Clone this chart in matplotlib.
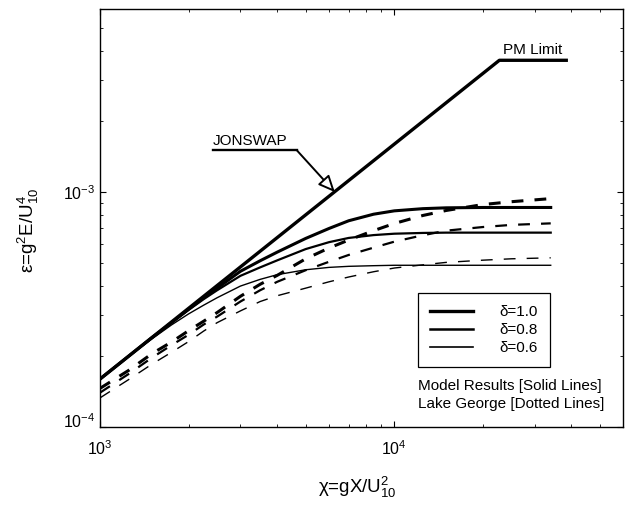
import matplotlib
matplotlib.use("Agg")
import matplotlib.pyplot as plt
from matplotlib.lines import Line2D
from matplotlib.transforms import ScaledTranslation

# ------------------------
# DATA
# ------------------------

chi = [1000, 1250, 1500, 1750, 2000, 2250, 2500, 3000, 3500, 4000,
       5000, 6000, 7000, 8500, 10000, 12500, 15000, 20000, 25000, 34000]

# model results (solid), units of 1e-4
model_10 = [1.60, 2.00, 2.40, 2.78, 3.17, 3.55, 3.90, 4.60, 5.10, 5.55,
            6.35, 7.00, 7.55, 8.05, 8.32, 8.50, 8.57, 8.60, 8.60, 8.60]
model_08 = [1.60, 2.00, 2.40, 2.78, 3.15, 3.50, 3.82, 4.40, 4.78, 5.12,
            5.72, 6.12, 6.38, 6.56, 6.65, 6.70, 6.72, 6.72, 6.72, 6.72]
model_06 = [1.60, 2.00, 2.37, 2.72, 3.03, 3.30, 3.55, 3.98, 4.25, 4.45,
            4.67, 4.78, 4.83, 4.86, 4.88, 4.88, 4.88, 4.88, 4.88, 4.88]

# Lake George (dashed), units of 1e-4
lake_10 = [1.46, 1.74, 2.05, 2.30, 2.57, 2.82, 3.07, 3.60, 4.05, 4.42,
           5.20, 5.78, 6.25, 6.85, 7.35, 7.95, 8.35, 8.85, 9.10, 9.38]
lake_08 = [1.40, 1.68, 1.97, 2.23, 2.47, 2.73, 2.95, 3.42, 3.82, 4.15,
           4.65, 5.05, 5.40, 5.80, 6.15, 6.55, 6.85, 7.10, 7.25, 7.36]
lake_06 = [1.33, 1.59, 1.85, 2.08, 2.31, 2.56, 2.78, 3.12, 3.42, 3.62,
           3.90, 4.15, 4.35, 4.58, 4.75, 4.90, 5.02, 5.13, 5.20, 5.25]

# JONSWAP growth line up to the PM limit
jonswap_chi = [1000, 22750, 38900]
jonswap_eps = [1.6e-4, 3.64e-3, 3.64e-3]

deltas = ["1.0", "0.8", "0.6"]
widths = [2.2, 1.6, 1.0]

# ------------------------
# STYLE
# ------------------------

plt.rcParams['font.family'] = ['Liberation Sans', 'DejaVu Sans']
plt.rcParams['mathtext.fontset'] = 'custom'
plt.rcParams['mathtext.rm'] = 'Liberation Sans'
plt.rcParams['mathtext.it'] = 'Liberation Sans'
plt.rcParams['mathtext.bf'] = 'Liberation Sans'
plt.rcParams['lines.scale_dashes'] = False

fig = plt.figure(figsize=(6.25, 5.14), dpi=100)
ax = fig.add_axes([0.16, 0.1693, 0.8373, 0.8126])

ax.set_xscale('log')
ax.set_yscale('log')
ax.set_xlim(1e3, 6e4)
ax.set_ylim(1e-4, 6e-3)

ax.plot(jonswap_chi, jonswap_eps, color='black', lw=2.4, solid_capstyle='butt')

handles = []
for d, w, m, l in zip(deltas, widths,
                      [model_10, model_08, model_06],
                      [lake_10, lake_08, lake_06]):
    ax.plot(chi, [v * 1e-4 for v in m], color='black', lw=w)
    ax.plot(chi, [v * 1e-4 for v in l], color='black', lw=w,
            linestyle=(0, (8.5, 8)))
    handles.append(Line2D([], [], color='black', lw=w + 0.2, label="δ=" + d))

# annotations
ax.text(2.95e4, 3.87e-3, "PM Limit", ha='center', va='baseline', fontsize=11)
ax.text(2416, 1.585e-3, "JONSWAP", ha='left', va='baseline', fontsize=11)
ax.plot([2416, 4656], [1.51e-3, 1.51e-3], color='black', lw=1.7)
ax.annotate('', xy=(6280, 1.0e-3), xytext=(4656, 1.51e-3),
            arrowprops=dict(arrowstyle='-|>,head_length=1.0,head_width=0.45',
                            fc='white', ec='black', lw=1.4,
                            shrinkA=0, shrinkB=0))

leg = ax.legend(handles=handles, loc='upper left',
                bbox_to_anchor=(0.6076, 0.3208), borderaxespad=0,
                fancybox=False, framealpha=1, edgecolor='black',
                fontsize=11, handlelength=2.8, handletextpad=1.75,
                borderpad=0.8, labelspacing=0.26)
leg.get_frame().set_linewidth(0.9)

ax.text(0.6076, 0.098, "Model Results [Solid Lines]", transform=ax.transAxes,
        ha='left', va='center', fontsize=11)
ax.text(0.6076, 0.055, "Lake George [Dotted Lines]", transform=ax.transAxes,
        ha='left', va='center', fontsize=11)

ax.set_xlabel('χ=gX/U$^2_{10}$', fontsize=13.5)
ax.set_ylabel('ε=g$^2$E/U$^4_{10}$', fontsize=13.5)
ax.xaxis.set_label_coords(0.492, -0.115)
ax.yaxis.set_label_coords(-0.113, 0.4716)

ax.tick_params(which='both', direction='in', top=True, right=True, labelsize=11.5)
ax.tick_params(axis='x', which='major', pad=9)
ax.tick_params(which='major', length=4.5, width=0.8)
ax.tick_params(which='minor', length=2.5, width=0.6)
for s in ax.spines.values():
    s.set_linewidth(1.0)

# lift the lowest y tick label a little, as in the original
for tick, loc in zip(ax.yaxis.get_major_ticks(), ax.yaxis.get_majorticklocs()):
    if abs(loc - 1e-4) < 1e-12:
        tick.label1.set_transform(tick.label1.get_transform() +
                                  ScaledTranslation(0, 0.07, fig.dpi_scale_trans))

fig.savefig("out.png", dpi=100)
